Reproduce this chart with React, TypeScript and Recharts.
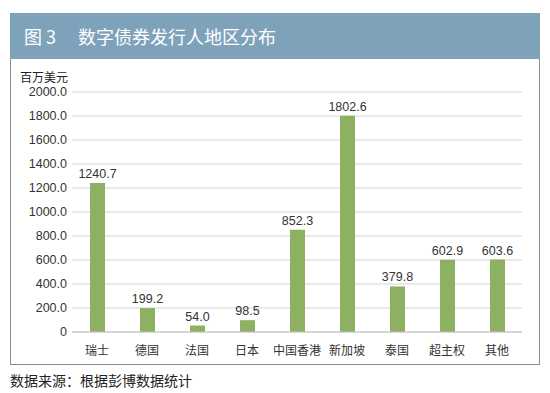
import { BarChart, Bar, XAxis, YAxis, CartesianGrid, LabelList } from 'recharts';

const regions = ['瑞士', '德国', '法国', '日本', '中国香港', '新加坡', '泰国', '超主权', '其他'];
const amounts = [1240.7, 199.2, 54.0, 98.5, 852.3, 1802.6, 379.8, 602.9, 603.6];
const yTicks = [0, 200, 400, 600, 800, 1000, 1200, 1400, 1600, 1800, 2000];

const data = regions.map((region, i) => ({ region, amount: amounts[i] }));

const FONT = '"Liberation Sans", "Noto Sans CJK SC", sans-serif';
const CJK = '"Noto Sans CJK SC", "Liberation Sans", sans-serif';

const formatTick = (v: number) => (v === 0 ? '0' : v.toFixed(1));

const App = () => {
  return (
    <div
      style={{
        position: 'absolute',
        left: 0,
        top: 0,
        width: 550,
        height: 393,
        background: '#fff',
        fontFamily: CJK,
        overflow: 'hidden',
      }}
    >
      <div
        style={{
          position: 'absolute',
          left: 10,
          top: 13,
          width: 530,
          height: 46,
          background: '#7fa2bb',
          color: '#fff',
          fontSize: 18,
          lineHeight: '46px',
          boxSizing: 'border-box',
          paddingLeft: 14,
          whiteSpace: 'nowrap',
        }}
      >
        <span>图 3</span>
        <span style={{ marginLeft: 22 }}>数字债券发行人地区分布</span>
      </div>
      <div
        style={{
          position: 'absolute',
          left: 10,
          top: 59,
          width: 530,
          height: 306,
          boxSizing: 'border-box',
          border: '1px solid #8c8c8c',
          borderTop: 'none',
        }}
      />
      <div style={{ position: 'absolute', left: 20, top: 68, fontSize: 12, color: '#222' }}>百万美元</div>
      <div style={{ position: 'absolute', left: 10, top: 370, fontSize: 14, color: '#222' }}>
        数据来源：根据彭博数据统计
      </div>
      <div style={{ position: 'absolute', left: 0, top: 0 }}>
        <BarChart width={550} height={393} data={data} margin={{ top: 92, right: 28, bottom: 31, left: 0 }}>
          <CartesianGrid vertical={false} stroke="#d4d4d4" />
          <XAxis
            dataKey="region"
            axisLine={{ stroke: '#c4c4c4' }}
            tickLine={false}
            tickMargin={8}
            height={30}
            interval={0}
            tick={{ fontSize: 12, fill: '#333', fontFamily: CJK }}
          />
          <YAxis
            width={72}
            domain={[0, 2000]}
            ticks={yTicks}
            tickFormatter={formatTick}
            axisLine={false}
            tickLine={false}
            tickSize={3}
            tickMargin={2}
            tick={{ fontSize: 12.5, fill: '#333', fontFamily: FONT }}
          />
          <Bar dataKey="amount" fill="#8db062" barSize={15} isAnimationActive={false}>
            <LabelList
              dataKey="amount"
              position="top"
              offset={5}
              formatter={(v: number) => v.toFixed(1)}
              style={{ fontSize: 12.5, fill: '#333', fontFamily: FONT }}
            />
          </Bar>
        </BarChart>
      </div>
    </div>
  );
};

export default App;
